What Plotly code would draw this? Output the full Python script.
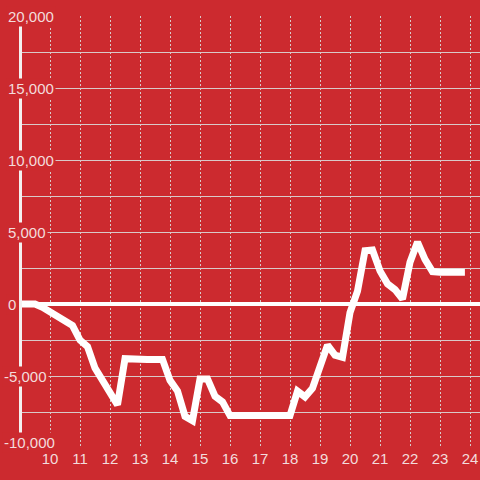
import plotly.graph_objects as go

# quarter-hour readings of the running balance
hours = [
    9.0, 9.25, 9.5, 9.75, 10.0, 10.25, 10.5, 10.75, 11.0, 11.25, 11.5, 11.75,
    12.0, 12.25, 12.5, 12.75, 13.0, 13.25, 13.5, 13.75, 14.0, 14.25, 14.5, 14.75,
    15.0, 15.25, 15.5, 15.75, 16.0, 16.25, 16.5, 16.75, 17.0, 17.25, 17.5, 17.75,
    18.0, 18.25, 18.5, 18.75, 19.0, 19.25, 19.5, 19.75, 20.0, 20.25, 20.5, 20.75,
    21.0, 21.25, 21.5, 21.75, 22.0, 22.25, 22.5, 22.75, 23.0, 23.25, 23.5, 23.83,
]
balance = [
    0, 0, 0, -230, -530, -830, -1150, -1500, -2500, -2960, -4450, -5300,
    -6150, -7000, -3800, -3850, -3850, -3850, -3850, -3850, -5300, -6050, -7800, -8100,
    -5200, -5200, -6400, -6800, -7750, -7750, -7750, -7750, -7750, -7750, -7750, -7750,
    -7750, -6050, -6450, -5850, -4500, -2850, -3550, -3700, -600, 900, 3700, 3750,
    2300, 1400, 1000, 350, 2900, 4300, 3100, 2250, 2200, 2200, 2200, 2200,
]

y_label_vals = [20000, 15000, 10000, 5000, 0, -5000, -10000]
x_tick_vals = list(range(10, 25))

RED = "#cc2a2f"
TXT = "#f3dcdc"
GRID = "#d9c9c9"

fig = go.Figure()
fig.add_trace(go.Scatter(x=hours, y=balance, mode="lines",
                         line=dict(color="#ffffff", width=7)))

fig.update_layout(
    width=480, height=480,
    margin=dict(l=22, r=0, t=16, b=32, autoexpand=False),
    paper_bgcolor=RED, plot_bgcolor=RED,
    showlegend=False,
    font=dict(family="Liberation Sans, Arial, sans-serif", size=15, color=TXT),
)
fig.update_xaxes(
    range=[9.0667, 24.3333], tickvals=x_tick_vals, automargin=False,
    showgrid=True, gridcolor=GRID, gridwidth=1, griddash="2px,2px",
    zeroline=False, showline=False, ticks="",
    tickfont=dict(size=15, color=TXT),
)
fig.update_yaxes(
    range=[-10000, 20000], dtick=2500, showticklabels=False, automargin=False,
    showgrid=True, gridcolor=GRID, gridwidth=1,
    zeroline=True, zerolinecolor="#ffffff", zerolinewidth=4,
    showline=True, linecolor="#f4f0f0", linewidth=3, ticks="",
)

# y labels sit on top of the grid with a red box behind them
for v in y_label_vals:
    fig.add_annotation(
        xref="paper", yref="y",
        x=-0.044 if v < 0 else -0.035, y=v,
        text=f"{v:,}",
        showarrow=False, xanchor="left", yanchor="middle",
        bgcolor=RED, borderpad=1,
        yshift=6 if v == -10000 else 0,
        font=dict(size=15, color=TXT),
    )

# the page's default body margin would push the chart 8px in
fig.write_html("out.html", config={"displayModeBar": False},
               post_script="document.body.style.margin='0';")
